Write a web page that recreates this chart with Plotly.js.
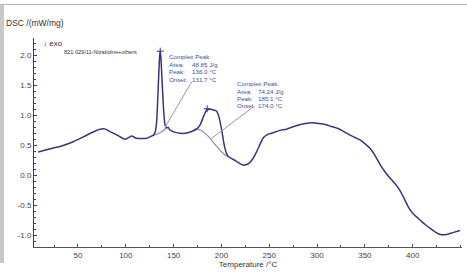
<!DOCTYPE html>
<html><head><meta charset="utf-8">
<script src="https://cdn.plot.ly/plotly-3.0.1.min.js"></script>
<style>
html,body{margin:0;padding:0;background:#fff;}
#wrap{position:relative;width:467px;height:277px;overflow:hidden;}
#plot{position:absolute;left:0;top:0;width:467px;height:277px;}
#frameL{position:absolute;left:0;top:5px;width:4px;height:258px;background:#c9c9c9;}
#frameT{position:absolute;left:0;top:4px;width:467px;height:1px;background:#b5b5b5;}
</style></head>
<body><div id="wrap"><div id="plot"></div><div id="frameL"></div><div id="frameT"></div></div>
<script>
// Main DSC curve
const temperature = [8.5,20,33,45,55.5,64,73,78,83.5,91,99,103,106,111,117,122,127,129,131,132.5,134,135.2,136,136.8,138,139.5,141,143,144.5,146,151,157,165,170,174,178,181,184.6,188,192,195,197.5,200,203,205,207,210,214,218,223,228,233,237,241,244,248,254,261,268,275,282,288,294.5,300,306.6,314,322,328,334.5,340,345,350,355.4,361,366,371,376,380,385,390,395.5,401,407.7,413,418,424,430,435.7,442,449.5];
const dsc = [0.39,0.44,0.49,0.56,0.64,0.71,0.77,0.775,0.73,0.67,0.60,0.63,0.655,0.62,0.615,0.62,0.655,0.67,0.74,0.95,1.5,1.95,2.07,1.95,1.55,1.1,0.84,0.79,0.80,0.76,0.72,0.70,0.71,0.74,0.77,0.85,0.97,1.09,1.10,1.09,1.07,0.97,0.78,0.50,0.38,0.32,0.285,0.25,0.21,0.17,0.19,0.28,0.40,0.54,0.63,0.68,0.71,0.75,0.77,0.81,0.845,0.865,0.875,0.87,0.855,0.82,0.78,0.73,0.67,0.63,0.59,0.53,0.45,0.32,0.18,0.06,-0.04,-0.11,-0.21,-0.35,-0.53,-0.65,-0.745,-0.82,-0.88,-0.95,-0.99,-0.985,-0.955,-0.92];
// Peak baselines
const base1T = [127,133,138,142];
const base1V = [0.655,0.69,0.73,0.79];
const base2T = [172,178,183,188,193,198.5,203,207];
const base2V = [0.78,0.755,0.70,0.62,0.52,0.42,0.35,0.31];
// Peak markers
const peakT = [136.0, 185.1];
const peakV = [2.07, 1.11];
// Peak results
const peakArea = ["48.85 J/g", "74.24 J/g"];
const peakTemp = ["136.0 °C", "185.1 °C"];
const peakOnset = ["131.7 °C", "174.0 °C"];
const xTicks = [50,100,150,200,250,300,350,400];
const yTicks = [-1.0,-0.5,0.0,0.5,1.0,1.5,2.0];

// pixel -> data helpers for placing text
const X0 = 30.2, XS = 0.956, Y0 = 175.3, YS = 60;
const tx = p => (p - X0) / XS;
const ty = p => (Y0 - p) / YS;

const navy = '#36367f';
const light = '#8a8ab0';
const blueText = '#3f4ea0';
const F = 'Liberation Sans, Arial, sans-serif';

const traces = [
  {x: base1T, y: base1V, mode:'lines', line:{color:light, width:1.2, shape:'spline', smoothing:0.6}, hoverinfo:'skip'},
  {x: base2T, y: base2V, mode:'lines', line:{color:light, width:1.2, shape:'spline', smoothing:0.6}, hoverinfo:'skip'},
  {x: temperature, y: dsc, mode:'lines', line:{color:navy, width:1.5, shape:'spline', smoothing:0.4}},
  {x: peakT, y: peakV, mode:'markers', marker:{symbol:'cross-thin', size:5, line:{color:navy, width:1}}}
];

const ann = [];
function t(px, py, s, size, color, anchor){
  ann.push({x: tx(px), y: ty(py), xref:'x', yref:'y', text:s, showarrow:false,
    xanchor: anchor||'left', yanchor:'middle', font:{family:F, size:size, color:color}});
}
// block 1
t(167, 56.7, 'Complex Peak:', 6.2, blueText);
t(167, 64.2, 'Area:', 6.2, blueText); t(190, 64.2, peakArea[0], 6.2, blueText);
t(167, 71.7, 'Peak:', 6.2, blueText); t(190, 71.7, peakTemp[0], 6.2, blueText);
t(167, 79, 'Onset:', 6.2, blueText); t(190, 79, peakOnset[0], 6.2, blueText);
// block 2
t(235, 83.5, 'Complex Peak:', 6.2, blueText);
t(235, 91, 'Area:', 6.2, blueText); t(256, 91, peakArea[1], 6.2, blueText);
t(235, 98.3, 'Peak:', 6.2, blueText); t(256, 98.3, peakTemp[1], 6.2, blueText);
t(235, 105.5, 'Onset:', 6.2, blueText); t(256, 105.5, peakOnset[1], 6.2, blueText);
// labels
t(41, 43, '↓ exo', 8, '#333');
t(62, 52, '821.029/11-Nizatidine+others', 5.6, '#333');

ann.push({xref:'paper', yref:'paper', x: -0.07, y: 1.07, xanchor:'left', yanchor:'middle',
  text:'DSC /(mW/mg)', showarrow:false, font:{family:F, size:8.5, color:'#333'}});

const shapes = [
  {type:'line', xref:'x', yref:'y', x0: tx(191.7), y0: ty(81.7), x1: 141, y1: 0.80, line:{color:'#9a9a9a', width:1}},
  {type:'line', xref:'x', yref:'y', x0: tx(253.3), y0: ty(106.7), x1: 189.9, y1: 0.617, line:{color:'#9a9a9a', width:1}}
];

const layout = {
  width:467, height:277,
  margin:{l:34, r:5, t:38, b:30},
  paper_bgcolor:'#fff', plot_bgcolor:'#fff',
  showlegend:false,
  font:{family:F, size:8, color:'#444'},
  xaxis:{range:[4, 451.6], showgrid:false, zeroline:false, showline:true, linecolor:'#555', linewidth:1,
    tickvals:xTicks, ticktext:xTicks.map(String), ticks:'inside', ticklen:3, tickcolor:'#555',
    minor:{dtick:25, tick0:0, ticks:'inside', ticklen:2, tickcolor:'#555'},
    tickfont:{family:F, size:8, color:'#444'},
    title:{text:'Temperature /°C', font:{family:F, size:8, color:'#333'}, standoff:2}},
  yaxis:{range:[-1.195, 2.29], showgrid:false, zeroline:false, showline:true, linecolor:'#3a3a8a', linewidth:1,
    tickvals:yTicks, ticktext:yTicks.map(v=>v.toFixed(1)), ticks:'inside', ticklen:3, tickcolor:'#3a3a8a',
    minor:{dtick:0.1, tick0:0, ticks:'inside', ticklen:2, tickcolor:'#3a3a8a'},
    tickfont:{family:F, size:8, color:'#444'}},
  annotations: ann,
  shapes: shapes
};
Plotly.newPlot('plot', traces, layout, {staticPlot:true});
</script></body></html>
